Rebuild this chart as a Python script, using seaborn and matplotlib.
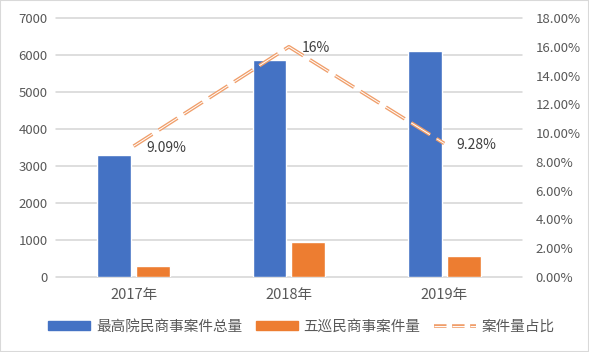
import pandas as pd
import numpy as np
import matplotlib
matplotlib.use("Agg")
import matplotlib.pyplot as plt
import seaborn as sns
from matplotlib.lines import Line2D
from matplotlib.patches import Rectangle

# Dados
anos = ["2017年", "2018年", "2019年"]
total_casos = [3305, 5866, 6110]
quinto_casos = [300, 940, 567]
proporcao = [0.0909, 0.16, 0.0928]
rotulos_prop = ["9.09%", "16%", "9.28%"]
nome_total = "最高院民商事案件总量"
nome_quinto = "五巡民商事案件量"
nome_prop = "案件量占比"

azul = "#4472C4"
laranja = "#ED7D31"
linha_cor = "#F09E6A"
cinza_texto = "#595959"
cinza_grade = "#D4D4D4"

sns.set_theme(style="white")
plt.rcParams["font.family"] = ["Noto Sans CJK SC", "DejaVu Sans"]
plt.rcParams["lines.scale_dashes"] = False

df = pd.DataFrame({
    "ano": anos * 2,
    "casos": total_casos + quinto_casos,
    "serie": [nome_total] * len(anos) + [nome_quinto] * len(anos),
})

fig = plt.figure(figsize=(5.89, 3.52), dpi=100)
ax = fig.add_axes([0.095, 0.213, 0.791, 0.736])

# Linhas de grade horizontais
for v in range(0, 7001, 1000):
    ax.axhline(v, color=cinza_grade, linewidth=1.1, zorder=0, clip_on=False)

sns.barplot(data=df, x="ano", y="casos", hue="serie", palette=[azul, laranja],
            saturation=1, width=0.5, gap=0.13, ax=ax, legend=False, zorder=2)
ax.set_ylim(0, 7000)
ax.set_yticks(range(0, 7001, 1000))
ax.set_xlim(-0.5, len(anos) - 0.5)
ax.set_xlabel("")
ax.set_ylabel("")
for s in ax.spines.values():
    s.set_visible(False)
ax.tick_params(axis="y", length=0, labelsize=9.5, labelcolor=cinza_texto, pad=6)
ax.tick_params(axis="x", length=0, labelsize=10.5, labelcolor=cinza_texto, pad=8)

# Linha de proporção (eixo secundário)
ax2 = ax.twinx()
xs = np.arange(len(anos))
traco = (0, (16, 5.5))
sns.lineplot(x=xs, y=proporcao, ax=ax2, color=linha_cor, linewidth=2.6,
             linestyle=traco)
sns.lineplot(x=xs, y=proporcao, ax=ax2, color="white", linewidth=0.7,
             linestyle=traco)
ax2.set_ylim(0, 0.18)
ax2.set_yticks(np.arange(0, 0.1801, 0.02))
ax2.set_yticklabels([f"{v * 100:.2f}%" for v in np.arange(0, 0.1801, 0.02)])
for s in ax2.spines.values():
    s.set_visible(False)
ax2.tick_params(axis="y", length=0, labelsize=9.5, labelcolor=cinza_texto, pad=10)
ax2.grid(False)

for x, y, r in zip(xs, proporcao, rotulos_prop):
    ax2.annotate(r, (x, y), xytext=(9, -1), textcoords="offset points",
                 ha="left", va="center", fontsize=10, color="#404040")

# Legenda
h_total = Rectangle((0, 0), 1, 1, color=azul)
h_quinto = Rectangle((0, 0), 1, 1, color=laranja)
h_prop = (Line2D([], [], color=linha_cor, linewidth=2.6, linestyle=(0, (9, 4))),
          Line2D([], [], color="white", linewidth=0.7, linestyle=(0, (9, 4))))
fig.legend([h_total, h_quinto, h_prop], [nome_total, nome_quinto, nome_prop],
           loc="center", bbox_to_anchor=(0.512, 0.072), ncol=3, frameon=False,
           fontsize=10.5, handlelength=2.9, handleheight=0.55, columnspacing=0.9,
           handletextpad=0.4, labelcolor=cinza_texto)

fig.patches.append(Rectangle((0, 0), 1, 1, transform=fig.transFigure,
                             fill=False, edgecolor="#D9D9D9", linewidth=1.5))

fig.savefig("out.png", dpi=100)
plt.close(fig)
